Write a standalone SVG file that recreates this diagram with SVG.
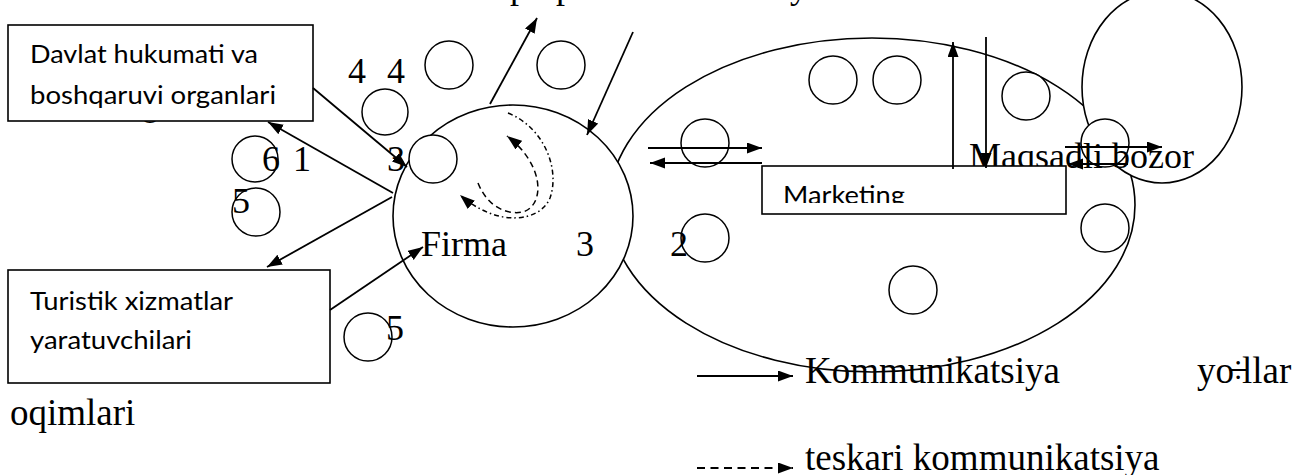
<svg xmlns="http://www.w3.org/2000/svg" width="1300" height="475" viewBox="0 0 1300 475">
<defs>
<marker id="ah" markerWidth="16" markerHeight="12" refX="15" refY="5.5" orient="auto" markerUnits="userSpaceOnUse"><path d="M0,0 L15,5.5 L0,11 z" fill="#000"/></marker>
<clipPath id="mkclip"><rect x="762" y="166" width="304" height="37"/></clipPath>
</defs>
<style>
.sh{fill:#fff;stroke:#000;stroke-width:1.6}
.c{fill:#fff;stroke:#000;stroke-width:1.5}
.ln{fill:none;stroke:#000;stroke-width:1.8;marker-end:url(#ah)}
.dd{fill:none;stroke:#000;stroke-width:1.5;stroke-dasharray:5 3 1.5 3;marker-end:url(#ah)}
.ds{fill:none;stroke:#000;stroke-width:1.5;stroke-dasharray:6 4;marker-end:url(#ah)}
.t{font-family:"Liberation Serif","Times New Roman",serif;font-size:36px;fill:#000}
.lg{font-size:37px}
.s{font-family:Lato,"Noto Sans",sans-serif;font-size:25px;fill:#000}
</style>

<text class="t" y="-2.5"><tspan x="510">p</tspan><tspan x="556">p</tspan><tspan x="790">y</tspan></text>
<text class="t" x="141" y="123">8</text>

<g id="bozor-ellipse"><ellipse class="sh" cx="872" cy="205" rx="263" ry="167"/></g>
<g id="target-market"><ellipse class="sh" cx="1162" cy="87" rx="80" ry="96"/></g>
<g id="firma"><ellipse class="sh" cx="513" cy="216" rx="120" ry="111"/></g>

<g id="small-circles">
<circle class="c" cx="449" cy="65" r="24"/>
<circle class="c" cx="561" cy="65" r="24"/>
<circle class="c" cx="385" cy="112" r="23"/>
<circle class="c" cx="255" cy="159" r="23"/>
<circle class="c" cx="256" cy="212" r="24"/>
<circle class="c" cx="433" cy="159" r="24"/>
<circle class="c" cx="705" cy="143" r="24"/>
<circle class="c" cx="705" cy="238" r="24"/>
<circle class="c" cx="833" cy="80" r="24"/>
<circle class="c" cx="897" cy="80" r="24"/>
<circle class="c" cx="1026" cy="96" r="24"/>
<circle class="c" cx="1105" cy="143" r="24"/>
<circle class="c" cx="1105" cy="228" r="24"/>
<circle class="c" cx="913" cy="290" r="24"/>
<circle class="c" cx="368" cy="337" r="24"/>
</g>

<g id="labels">
<text class="t" y="83"><tspan x="348">4</tspan><tspan x="387">4</tspan></text>
<text class="t" x="262" y="171">6</text>
<text class="t" x="293" y="171">1</text>
<text class="t" x="387" y="171">3</text>
<text class="t" x="232" y="213">5</text>
<text class="t" x="421" y="256">Firma</text>
<text class="t" x="576" y="256">3</text>
<text class="t" x="670" y="256">2</text>
<text class="t" x="386" y="340">5</text>
<text class="t" x="969" y="168">Maqsadli bozor</text>
<text class="t lg" x="805" y="383">Kommunikatsiya</text>
<text class="t lg" y="383"><tspan x="1197">yo</tspan><tspan x="1228">÷</tspan><tspan x="1242">llar</tspan></text>
<text class="t lg" x="10" y="425">oqimlari</text>
<text class="t lg" x="805" y="470">teskari kommunikatsiya</text>
</g>

<g id="davlat">
<rect class="sh" x="8" y="25" width="305" height="96"/>
<text class="s" x="30" y="63" textLength="228" lengthAdjust="spacingAndGlyphs">Davlat hukumati va</text>
<text class="s" x="30" y="104" textLength="246" lengthAdjust="spacingAndGlyphs">boshqaruvi organlari</text>
</g>
<g id="turistik">
<rect class="sh" x="8" y="270" width="322" height="113"/>
<text class="s" x="30" y="310" textLength="203" lengthAdjust="spacingAndGlyphs">Turistik xizmatlar</text>
<text class="s" x="30" y="349" textLength="162" lengthAdjust="spacingAndGlyphs">yaratuvchilari</text>
</g>
<g id="marketing">
<rect class="sh" x="762" y="166" width="304" height="48"/>
<text class="s" x="783" y="204" textLength="122" lengthAdjust="spacingAndGlyphs" clip-path="url(#mkclip)">Marketing</text>
</g>

<g id="connectors">
<path class="ln" d="M313,88 L407,167"/>
<path class="ln" d="M393,193 L268,122"/>
<path class="ln" d="M392,197 L267,267"/>
<path class="ln" d="M330,310 L423,247"/>
<path class="ln" d="M490,104 L537,18"/>
<path class="ln" d="M633,32 L587,135"/>
<path class="ln" d="M648,148 L762,148"/>
<path class="ln" d="M762,163 L650,163"/>
<path class="ln" d="M953,169 L953,42"/>
<path class="ln" d="M986,37 L986,168"/>
<path class="ln" d="M1065,147 L1162,147"/>
<path class="ln" d="M1128,164 L1068,164"/>
<path class="dd" d="M508,113 C545,128 560,170 550,198 C540,222 498,228 460,195"/>
<path class="ds" d="M478,183 C488,208 508,215 523,212 C545,205 545,165 507,136"/>
<path class="ln" d="M697,376 L793,376"/>
<path class="ln" d="M697,468 L793,468" style="stroke-dasharray:8 5.5"/>
</g>
</svg>
